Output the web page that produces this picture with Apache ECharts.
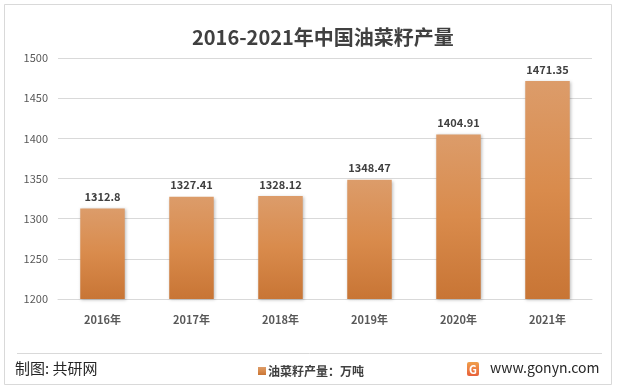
<!DOCTYPE html>
<html><head><meta charset="utf-8">
<script src="https://cdn.jsdelivr.net/npm/echarts@6/dist/echarts.min.js"></script>
<style>html,body{margin:0;padding:0;background:#fff}#c{width:617px;height:390px}</style>
</head><body><div id="c"></div>
<script>
const categories = ['2016年','2017年','2018年','2019年','2020年','2021年'];
const production = [1312.8, 1327.41, 1328.12, 1348.47, 1404.91, 1471.35];
const seriesName = '油菜籽产量：万吨';
const titleText = '2016-2021年中国油菜籽产量';

const chart = echarts.init(document.getElementById('c'));
const font = 'Microsoft YaHei, "Noto Sans CJK SC", sans-serif';
chart.setOption({
  backgroundColor: '#fff',
  animation: false,
  title: {
    text: titleText, left: 187, top: 22,
    textStyle: {fontSize: 20, fontWeight: 'bold', color: '#404040', fontFamily: font}
  },
  legend: {
    data: [seriesName], left: 253, top: 360, itemWidth: 8, itemHeight: 8, itemGap: 4,
    icon: 'rect',
    textStyle: {fontSize: 12, fontWeight: 'bold', color: '#404040', fontFamily: font, padding: [0,0,0,-3]}
  },
  grid: {left: 58, right: 25, top: 58, bottom: 91},
  xAxis: {
    type: 'category', data: categories,
    axisLine: {lineStyle: {color: '#d9d9d9'}},
    axisTick: {show: false},
    axisLabel: {color: '#595959', fontSize: 11, fontWeight: 'bold', margin: 15, fontFamily: font}
  },
  yAxis: {
    type: 'value', min: 1200, max: 1500, interval: 50,
    axisLine: {show: false}, axisTick: {show: false},
    splitLine: {lineStyle: {color: '#d9d9d9'}},
    axisLabel: {color: '#595959', fontSize: 11, margin: 10, fontFamily: font, formatter: v => String(v)}
  },
  series: [{
    name: seriesName, type: 'bar', data: production, barWidth: '50%',
    itemStyle: {
      color: new echarts.graphic.LinearGradient(0,0,0,1,[
        {offset:0, color:'#DC9C6A'},{offset:0.5,color:'#D98B4C'},{offset:1,color:'#C87535'}]),
      shadowColor: 'rgba(0,0,0,0.25)', shadowBlur: 3, shadowOffsetX: 1, shadowOffsetY: 1
    },
    label: {show: true, position: 'top', distance: 6, color: '#404040', fontSize: 11, fontWeight: 'bold', fontFamily: font}
  }],
  graphic: [
    {type:'rect', shape:{x:4.5,y:4.5,width:607,height:380}, style:{fill:'none', stroke:'#d9d9d9', lineWidth:1}, z:-1},
    {type:'line', shape:{x1:17,y1:353.5,x2:602,y2:353.5}, style:{stroke:'#d9d9d9', lineWidth:1}},
    {type:'text', left:15, top:361, style:{text:'制图: 共研网', fontSize:15, fill:'#262626', fontFamily:font}},
    {type:'rect', shape:{x:467,y:362,width:12,height:14,r:2},
      style:{fill: new echarts.graphic.LinearGradient(0,0,0,1,[{offset:0,color:'#F0A04B'},{offset:1,color:'#E8603A'}])}},
    {type:'text', x:473, y:369.5, style:{text:'G', fontSize:11, fontWeight:'bold', fill:'#fff', align:'center', verticalAlign:'middle', fontFamily:font}},
    {type:'text', left:490, top:361, style:{text:'www.gonyn.com', fontSize:14, fill:'#262626', fontFamily:font}}
  ]
});
</script></body></html>
